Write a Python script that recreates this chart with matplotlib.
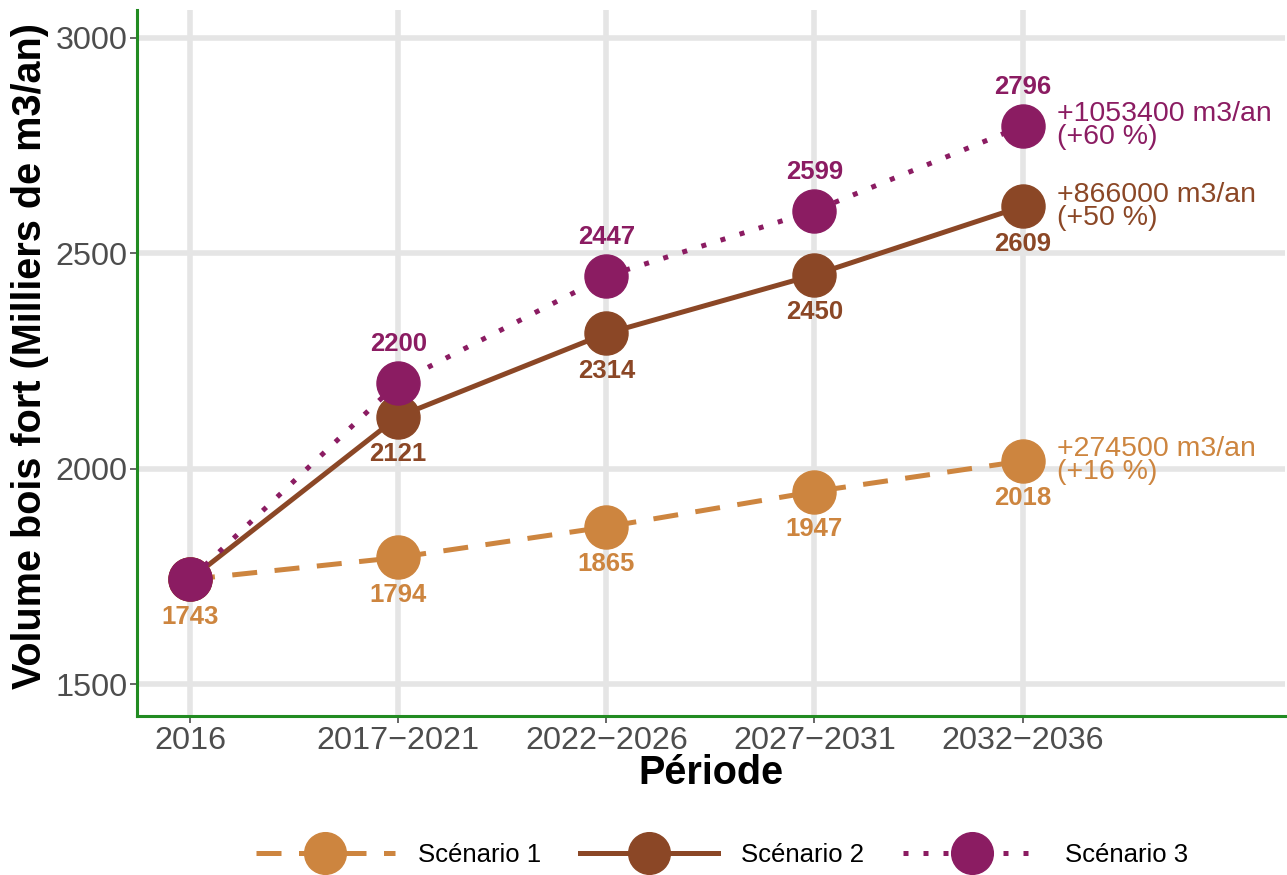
import matplotlib
matplotlib.use("Agg")
import matplotlib.pyplot as plt
from matplotlib.lines import Line2D

plt.rcParams['font.family'] = ['Liberation Sans', 'DejaVu Sans']

periods = ["2016", "2017\u22122021", "2022\u22122026", "2027\u22122031", "2032\u22122036"]
scenario1 = [1743, 1794, 1865, 1947, 2018]
scenario2 = [1743, 2121, 2314, 2450, 2609]
scenario3 = [1743, 2200, 2447, 2599, 2796]
gains = ["+274500 m3/an\n(+16 %)", "+866000 m3/an\n(+50 %)", "+1053400 m3/an\n(+60 %)"]
names = ["Sc\u00e9nario 1", "Sc\u00e9nario 2", "Sc\u00e9nario 3"]

colors = ["#CD853F", "#8B4726", "#8B1C62"]
dashes = [(5, 3.5), None, (1, 3)]
label_dy = [-27, -27, 28]

fig = plt.figure(figsize=(12.87, 8.75), dpi=100)
ax = fig.add_axes([0.1064, 0.1817, 0.892, 0.807])

x = list(range(len(periods)))
series = [scenario1, scenario2, scenario3]
for i, vals in enumerate(series):
    ln, = ax.plot(x, vals, color=colors[i], lw=3.6, marker='o', markersize=31,
                  zorder=3 + i, solid_capstyle='butt')
    if dashes[i] is not None:
        ln.set_dashes(dashes[i])
    for j, v in enumerate(vals):
        if j == 0 and i > 0:
            continue
        ax.annotate(str(v), (j, v), xytext=(0, label_dy[i]), textcoords='offset points',
                    ha='center', va='center', fontsize=18.5, fontweight='bold',
                    color=colors[i], zorder=10)
    ax.annotate(gains[i], (x[-1], vals[-1]), xytext=(25, 0), textcoords='offset points',
                ha='left', va='center', fontsize=20.5, color=colors[i],
                linespacing=0.85, zorder=10)

ax.set_xlim(-0.255, 5.26)
ax.set_ylim(1426, 3065)
ax.set_xticks(x)
ax.set_xticklabels(periods)
ax.set_yticks([1500, 2000, 2500, 3000])
ax.tick_params(labelsize=23.3, colors='#4D4D4D', length=5, width=1.2, pad=2)
ax.grid(True, color='#E5E5E5', lw=4)
ax.set_axisbelow(True)
for s in ['top', 'right']:
    ax.spines[s].set_visible(False)
for s in ['left', 'bottom']:
    ax.spines[s].set_color('#228B22')
    ax.spines[s].set_linewidth(2.2)

ax.set_xlabel("P\u00e9riode", fontsize=28.5, fontweight='bold', labelpad=-1)
ax.set_ylabel("Volume bois fort (Milliers de m3/an)", fontsize=28.5, fontweight='bold')
ax.yaxis.set_label_coords(-0.0765, 0.51)

handles = []
for i in range(3):
    h = Line2D([], [], color=colors[i], lw=3.6, marker='o', markersize=30)
    if dashes[i] is not None:
        h.set_dashes(dashes[i])
    handles.append(h)
fig.legend(handles, names, loc='center', bbox_to_anchor=(0.561, 0.023), ncol=3, frameon=False,
           fontsize=18.5, handlelength=5.4, handletextpad=0.9, columnspacing=1.5)

fig.savefig("out.png", dpi=100)
